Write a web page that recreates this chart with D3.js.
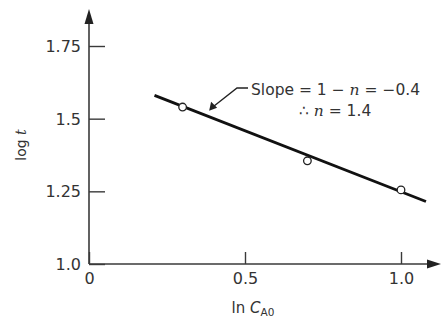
<!DOCTYPE html>
<html><head><meta charset="utf-8">
<script src="https://cdn.jsdelivr.net/npm/d3@7"></script>
<style>
html,body{margin:0;padding:0;background:#fff;}
svg{display:block;font-family:"DejaVu Sans",sans-serif;}
</style></head>
<body>
<svg id="chart" width="442" height="321"></svg>
<script>
// Data
const xTickValues = [0, 0.5, 1.0];
const xTickLabels = ["0", "0.5", "1.0"];
const yTickValues = [1.0, 1.25, 1.5, 1.75];
const yTickLabels = ["1.0", "1.25", "1.5", "1.75"];
const pointX = [0.30, 0.70, 1.00];
const pointY = [1.54, 1.355, 1.255];
const fitX = [0.21, 1.08];
const fitY = [1.58, 1.215];
const annoX = 0.385; // where the callout arrow meets the line

const svg = d3.select("#chart");
const x = d3.scaleLinear().domain([0, 1]).range([89, 401]);
const y = d3.scaleLinear().domain([1.0, 1.75]).range([264, 46]);
const axisColor = "#3a3a3a", textColor = "#333";

// Axes lines
svg.append("line").attr("x1", x(0)).attr("y1", y(1.0)).attr("x2", x(0)).attr("y2", 22)
  .attr("stroke", axisColor).attr("stroke-width", 1.6);
svg.append("path").attr("d", `M${x(0)},9 L${x(0)-4.5},24 L${x(0)+4.5},24 Z`).attr("fill", "#222");
svg.append("line").attr("x1", x(0)).attr("y1", y(1.0)).attr("x2", 430).attr("y2", y(1.0))
  .attr("stroke", axisColor).attr("stroke-width", 1.6);
svg.append("path").attr("d", `M441,${y(1.0)} L427,${y(1.0)-4.5} L427,${y(1.0)+4.5} Z`).attr("fill", "#222");

// Y axis ticks
const yAxis = d3.axisLeft(y).tickValues(yTickValues)
  .tickFormat((d, i) => yTickLabels[i]).tickSize(-16).tickPadding(8);
const gy = svg.append("g").attr("transform", `translate(${x(0)},0)`).call(yAxis);
gy.select(".domain").remove();
gy.selectAll(".tick line").attr("stroke", axisColor).attr("stroke-width", 1.4);
gy.selectAll(".tick text").attr("fill", textColor).attr("font-size", 16)
  .attr("font-family", "DejaVu Sans, sans-serif").attr("dy", "0.34em");

// X axis ticks
const xAxis = d3.axisBottom(x).tickValues(xTickValues)
  .tickFormat((d, i) => xTickLabels[i]).tickSize(-12).tickPadding(9);
const gx = svg.append("g").attr("transform", `translate(0,${y(1.0)})`).call(xAxis);
gx.select(".domain").remove();
gx.selectAll(".tick line").attr("stroke", axisColor).attr("stroke-width", 1.4);
gx.selectAll(".tick text").attr("fill", textColor).attr("font-size", 16)
  .attr("font-family", "DejaVu Sans, sans-serif");

// Fit line
svg.append("line")
  .attr("x1", x(fitX[0])).attr("y1", y(fitY[0]))
  .attr("x2", x(fitX[1])).attr("y2", y(fitY[1]))
  .attr("stroke", "#111").attr("stroke-width", 2.8);

// Points
svg.selectAll("circle.pt").data(pointX.map((d, i) => [d, pointY[i]])).enter()
  .append("circle").attr("class", "pt")
  .attr("cx", d => x(d[0])).attr("cy", d => y(d[1])).attr("r", 3.8)
  .attr("fill", "#fff").attr("stroke", "#222").attr("stroke-width", 1.3);

// Annotation
const slope = (fitY[1] - fitY[0]) / (fitX[1] - fitX[0]);
const ay = fitY[0] + slope * (annoX - fitX[0]);
const tipX = x(annoX), tipY = y(ay) - 6;
svg.append("path").attr("d", `M${tipX+4},${tipY-4} L237,88 L248,88`)
  .attr("fill", "none").attr("stroke", "#222").attr("stroke-width", 1.4);
svg.append("path").attr("d", `M${tipX},${tipY} L${tipX+2},${tipY-9} L${tipX+8},${tipY-3} Z`).attr("fill", "#222");

const t1 = svg.append("text").attr("x", 251).attr("y", 95).attr("font-size", 15.5).attr("fill", textColor);
t1.append("tspan").text("Slope = 1 − ");
t1.append("tspan").attr("font-style", "italic").attr("font-family", "DejaVu Serif, serif").text("n");
t1.append("tspan").text(" = −0.4");
const t2 = svg.append("text").attr("x", 299).attr("y", 116).attr("font-size", 15.5).attr("fill", textColor);
t2.append("tspan").text("∴ ");
t2.append("tspan").attr("font-style", "italic").attr("font-family", "DejaVu Serif, serif").text("n");
t2.append("tspan").text(" = 1.4");

// Axis titles
const xl = svg.append("text").attr("x", 253).attr("y", 313).attr("text-anchor", "middle")
  .attr("font-size", 15).attr("fill", textColor);
xl.append("tspan").text("ln ");
xl.append("tspan").attr("font-style", "italic").text("C");
xl.append("tspan").attr("font-size", 10.5).attr("dy", 3).text("A0");

const yl = svg.append("text").attr("transform", "translate(26,145) rotate(-90)")
  .attr("text-anchor", "middle").attr("font-size", 14).attr("fill", textColor);
yl.append("tspan").text("log ");
yl.append("tspan").attr("font-style", "italic").attr("font-family", "DejaVu Serif, serif").text("t");
</script>
</body></html>
